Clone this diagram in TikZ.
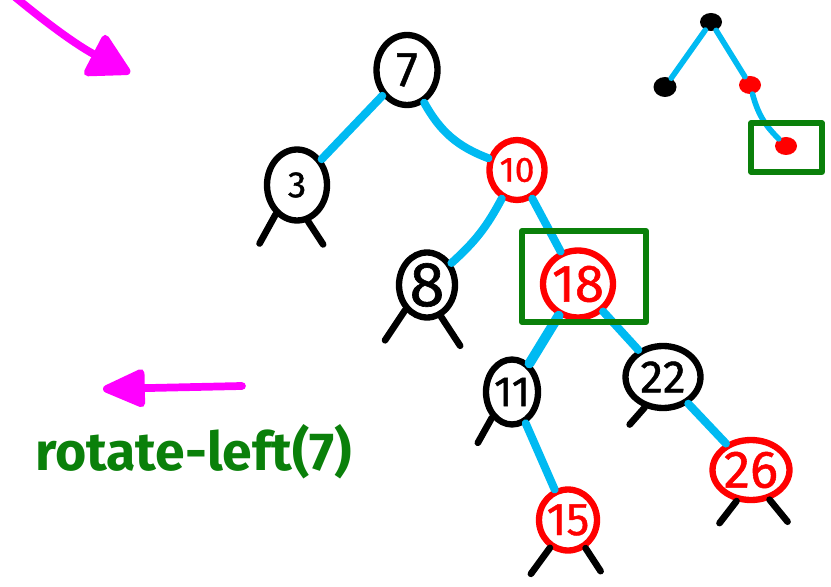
\documentclass[tikz,border=0pt]{standalone}
\usepackage{fontspec}
\setmainfont{Fira Sans}[Numbers=Proportional]
\newfontfamily\keyfont{Fira Sans}[Numbers=Proportional, FakeBold=1]
\usepackage{tikz}
\usetikzlibrary{shapes.geometric, arrows.meta, positioning}
\definecolor{branch}{HTML}{00BAF2}
\definecolor{redkey}{HTML}{FF0000}
\definecolor{pivot}{HTML}{0A800A}
\definecolor{rotpink}{HTML}{FF00FF}
\newcommand{\keytext}[1]{\makebox[0pt]{\keyfont #1}}

\begin{document}
\begin{tikzpicture}[x=0.02cm, y=-0.02cm,
  black key/.style={ellipse, draw=black, line width=3.6pt, inner sep=0pt},
  red key/.style={black key, draw=redkey, text=redkey},
  link/.style={draw=branch, line width=4.6pt, line cap=round},
  nil/.style={draw=black, line width=3.8pt, line cap=round},
  black dot/.style={ellipse, fill=black, inner sep=0pt, minimum width=0.44cm, minimum height=0.36cm},
  red dot/.style={black dot, fill=redkey},
  pivot box/.style={draw=pivot, line width=3.4pt, line join=round},
  rotation/.style={draw=rotpink, line width=4.4pt, line cap=round}]
\useasboundingbox (0,0) rectangle (831,587);

% keys of the tree
\node[black key, minimum width=1.22cm, minimum height=1.40cm, font=\fontsize{28}{28}\selectfont] (k7) at (407,70) {\keytext{7}};
\node[black key, minimum width=1.20cm, minimum height=1.42cm, font=\fontsize{21}{21}\selectfont] (k3) at (297,185) {\keytext{3}};
\node[red key, minimum width=1.10cm, minimum height=1.20cm, font=\fontsize{20}{20}\selectfont] (k10) at (517,170) {\keytext{10}};
\node[black key, minimum width=1.12cm, minimum height=1.30cm, font=\fontsize{36}{36}\selectfont] (k8) at (427,285) {\keytext{8}};
\node[red key, minimum width=1.40cm, minimum height=1.34cm, font=\fontsize{30}{30}\selectfont] (k18) at (578,284) {\keytext{18}};
\node[black key, minimum width=1.04cm, minimum height=1.30cm, font=\fontsize{24}{24}\selectfont] (k11) at (512,392) {\keytext{11}};
\node[black key, minimum width=1.50cm, minimum height=1.24cm, font=\fontsize{26}{26}\selectfont] (k22) at (663,377) {\keytext{22}};
\node[red key, minimum width=1.54cm, minimum height=1.20cm, font=\fontsize{30}{30}\selectfont] (k26) at (751,470) {\keytext{26}};
\node[red key, minimum width=1.16cm, minimum height=1.22cm, font=\fontsize{26}{26}\selectfont] (k15) at (568,520) {\keytext{15}};

% branches
\draw[link] (k7) -- (k3);
\draw[link] (k7) to[bend right=20] (k10);
\draw[link] (k10) to[bend left=10] (k8);
\draw[link] (k10) -- (k18);
\draw[link, line width=5.6pt] (k18) -- (k11);
\draw[link] (k18) -- (k22);
\draw[link] (k11) -- (k15);
\draw[link] (k22) -- (k26);

% nil children
\draw[nil] (k3.234) -- ++(-16,29);
\draw[nil] (k3.287) -- ++(15,23);
\draw[nil] (k8.229) -- ++(-20,30);
\draw[nil] (k8.294) -- ++(19,29);
\draw[nil] (k11.232) -- ++(-14,25);
\draw[nil] (k22.239) -- ++(-15,17);
\draw[nil] (k26.245) -- ++(-17,22);
\draw[nil] (k26.302) -- ++(18,22);
\draw[nil] (k15.237) -- ++(-19,26);
\draw[nil] (k15.302) -- ++(15,23);

% node to rotate about
\draw[pivot box] (522,231) rectangle (646,322);

% small sketch of the bad case
\node[black dot] (t1) at (711,22) {};
\node[black dot, minimum width=0.46cm, minimum height=0.40cm] (t2) at (665,87) {};
\node[red dot] (t3) at (750,85) {};
\node[red dot] (t4) at (786,146) {};
\draw[link, line width=3.2pt] (t1) -- (t2);
\draw[link, line width=3.2pt] (t1) -- (t3);
\draw[link, line width=3.2pt] (t3) to[bend right=15] (t4);
\draw[pivot box, line width=2.9pt] (751,123) rectangle (822,172);

% rotation arrows
\coordinate (swing from) at (15,-3);
\coordinate (swing to) at (130,73);
\draw[rotation, -{Triangle[length=0.92cm, width=0.98cm, round]}] (swing from) to[bend right=6] (swing to);
\coordinate (rot tail) at (242,386);
\coordinate (rot head) at (103,389);
\draw[rotation, -{Triangle[length=0.96cm, width=0.8cm, round]}] (rot tail) -- (rot head);

\node[anchor=base west, inner sep=0pt, text=pivot, font=\fontsize{30.5}{33}\selectfont\bfseries] (caption) at (35,470) {rotate-left(7)};
\end{tikzpicture}
\end{document}
